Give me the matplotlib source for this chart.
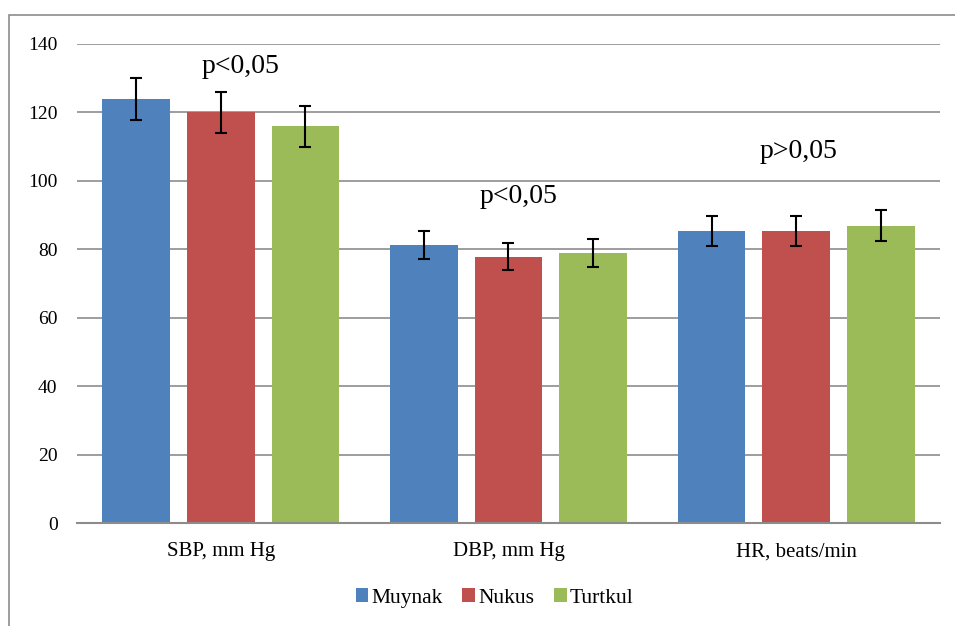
import matplotlib
matplotlib.use("Agg")
import matplotlib.pyplot as plt
import numpy as np
from matplotlib.patches import Rectangle

categories = ["SBP, mm Hg", "DBP, mm Hg", "HR, beats/min"]
series_names = ["Muynak", "Nukus", "Turtkul"]
muynak = [123.9, 81.3, 85.4]
nukus = [120.0, 77.8, 85.4]
turtkul = [115.9, 79.0, 86.9]
muynak_err = [6.2, 4.1, 4.4]
nukus_err = [6.0, 4.0, 4.4]
turtkul_err = [5.9, 4.1, 4.6]
p_labels = ["p<0,05", "p<0,05", "p>0,05"]
p_label_y = [133.5, 95.5, 108.6]
p_label_dx = [0.067, 0.036, 0.01]
yticks = [0, 20, 40, 60, 80, 100, 120, 140]

colors = ["#4F81BD", "#C0504D", "#9BBB59"]
plt.rcParams['font.family'] = ['Liberation Serif', 'DejaVu Serif']

fig = plt.figure(figsize=(9.55, 6.26), dpi=100)
ax = fig.add_axes([77/955, 1-523/626, (940-77)/955, (523-44)/626])

x = np.arange(len(categories))
width = 0.235
offset = 0.294
values = [muynak, nukus, turtkul]
errs = [muynak_err, nukus_err, turtkul_err]
for i, (vals, er, c, name) in enumerate(zip(values, errs, colors, series_names)):
    ax.bar(x + (i-1)*offset, vals, width, color=c, label=name, zorder=2)
    ax.errorbar(x + (i-1)*offset, vals, yerr=er, fmt='none', ecolor='black',
                elinewidth=1.5, capsize=4.3, capthick=1.5, zorder=3)

for i, (t, yv, dx) in enumerate(zip(p_labels, p_label_y, p_label_dx)):
    ax.text(i + dx, yv, t, ha='center', va='center', fontsize=20)

ax.set_xlim(-0.5, 2.5)
ax.set_ylim(0, 140)
ax.set_yticks(yticks)
ax.set_yticklabels([str(v) for v in yticks], fontsize=14)
ax.set_xticks(x)
ax.set_xticklabels(categories, fontsize=15)
ax.tick_params(axis='y', length=0, pad=14)
ax.tick_params(axis='x', length=0, pad=14)
ax.yaxis.grid(True, color='#8c8c8c', linewidth=1.2, zorder=0)
ax.set_axisbelow(True)
for s in ['top', 'right', 'left']:
    ax.spines[s].set_visible(False)
ax.spines['bottom'].set_color('#8c8c8c')
ax.spines['bottom'].set_linewidth(1.5)

handles, labels = ax.get_legend_handles_labels()
fig.legend(handles, labels, loc='center', bbox_to_anchor=(0.518, 1-598/626), ncol=3,
           frameon=False, fontsize=15.5, handlelength=0.6, handleheight=0.6,
           handletextpad=0.15, columnspacing=0.9)

fig.add_artist(Rectangle((9/955, -0.01), 1.0, 1-15/626+0.01, transform=fig.transFigure,
                         fill=False, edgecolor='#8c8c8c', linewidth=1.2))

fig.savefig("out.png", dpi=100)
